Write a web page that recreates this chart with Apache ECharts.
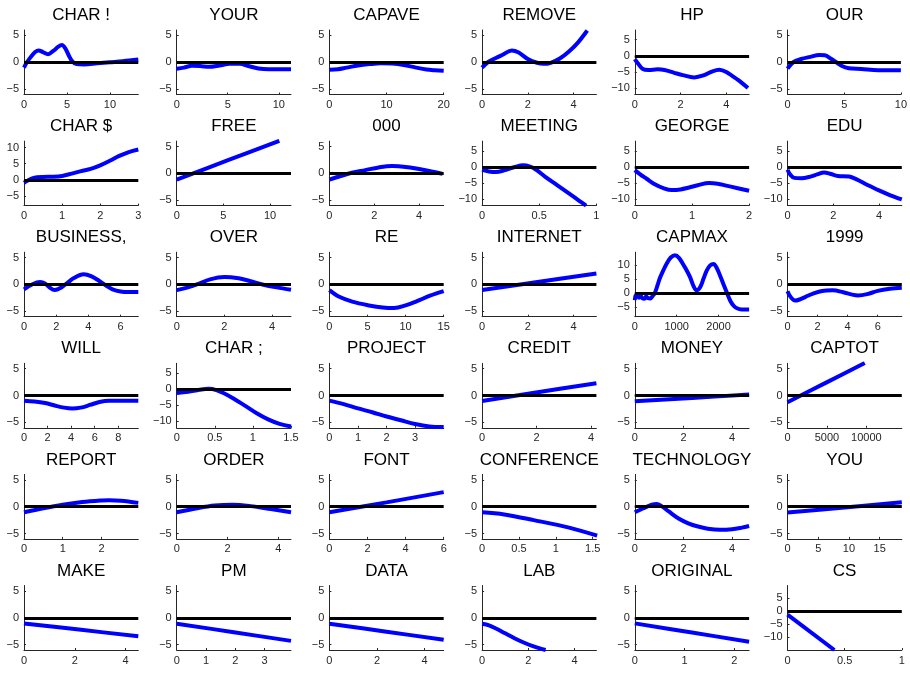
<!DOCTYPE html>
<html><head><meta charset="utf-8">
<script src="https://cdn.jsdelivr.net/npm/echarts@6/dist/echarts.min.js"></script>
<style>html,body{margin:0;padding:0;background:#fff}#c{width:910px;height:673px}</style>
</head><body><div id="c"></div>
<script>
const titles = ['CHAR !','YOUR','CAPAVE','REMOVE','HP','OUR',
  'CHAR $','FREE','000','MEETING','GEORGE','EDU',
  'BUSINESS,','OVER','RE','INTERNET','CAPMAX','1999',
  'WILL','CHAR ;','PROJECT','CREDIT','MONEY','CAPTOT',
  'REPORT','ORDER','FONT','CONFERENCE','TECHNOLOGY','YOU',
  'MAKE','PM','DATA','LAB','ORIGINAL','CS'];
const xMax = [13.3,11.2,20,5,5,10, 3,12.25,5.1,1,2,5, 7.1,4.8,15,5,2730,7.6,
  9.7,1.5,4,4.2,4.7,14500, 2.95,4.5,6,1.55,4.7,18.6, 4.5,3.9,4.8,4.95,2.3,1];
const xTicks = [[0,5,10],[0,5,10],[0,10,20],[0,2,4],[0,2,4],[0,5,10],
  [0,1,2,3],[0,5,10],[0,2,4],[0,0.5,1],[0,1,2],[0,2,4],
  [0,2,4,6],[0,2,4],[0,5,10,15],[0,2,4],[0,1000,2000],[0,2,4,6],
  [0,2,4,6,8],[0,0.5,1,1.5],[0,1,2,3],[0,2,4],[0,2,4],[0,5000,10000],
  [0,1,2],[0,2,4],[0,2,4,6],[0,0.5,1,1.5],[0,2,4],[0,5,10,15],
  [0,2,4],[0,1,2,3],[0,2,4],[0,2,4],[0,1,2],[0,0.5,1]];
const yRange = [[-6,6],[-6,6],[-6,6],[-6,6],[-12,8],[-6,6],
  [-8,12],[-6,6],[-6,6],[-12,8],[-12,8],[-12,8],
  [-6,6],[-6,6],[-6,6],[-6,6],[-8.5,14.5],[-6,6],
  [-6,6],[-12,8],[-6,6],[-6,6],[-6,6],[-6,6],
  [-6,6],[-6,6],[-6,6],[-6,6],[-6,6],[-6,6],
  [-6,6],[-6,6],[-6,6],[-6,6],[-6,6],[-15,10]];
const yTicks = [[-5,0,5],[-5,0,5],[-5,0,5],[-5,0,5],[-10,-5,0,5],[-5,0,5],
  [-5,0,5,10],[-5,0,5],[-5,0,5],[-10,-5,0,5],[-10,-5,0,5],[-10,-5,0,5],
  [-5,0,5],[-5,0,5],[-5,0,5],[-5,0,5],[-5,0,5,10],[-5,0,5],
  [-5,0,5],[-10,-5,0,5],[-5,0,5],[-5,0,5],[-5,0,5],[-5,0,5],
  [-5,0,5],[-5,0,5],[-5,0,5],[-5,0,5],[-5,0,5],[-5,0,5],
  [-5,0,5],[-5,0,5],[-5,0,5],[-5,0,5],[-5,0,5],[-10,-5,0,5]];

const CHAR_EXCL = [[0,-1],[0.3,-0.1],[0.8,1.0],[1.3,1.9],[1.7,2.2],[2.2,1.9],[2.8,1.5],[3.4,2.1],[4.0,2.9],[4.4,3.2],[4.8,2.6],[5.2,1.3],[5.6,0.2],[6.1,-0.35],[7,-0.4],[8.5,-0.2],[10,0],[11.5,0.2],[13.3,0.5]];
const YOUR = [[0,-1.2],[0.7,-1.0],[1.5,-0.65],[2.3,-0.7],[3.2,-0.85],[4.2,-0.6],[5.2,-0.3],[6.2,-0.3],[7,-0.7],[8,-1.15],[9,-1.3],[10,-1.3],[11.2,-1.3]];
const CAPAVE = [[0,-1.4],[1.5,-1.3],[3,-1],[5,-0.6],[7,-0.35],[9,-0.2],[11,-0.25],[13,-0.5],[15,-0.95],[17,-1.35],[18.5,-1.5],[20,-1.6]];
const REMOVE = [[0,-1],[0.25,0],[0.6,0.8],[0.9,1.4],[1.3,2.2],[1.6,1.8],[2.0,0.6],[2.4,-0.1],[2.7,-0.3],[3.0,-0.1],[3.4,0.7],[3.8,2.0],[4.2,3.7],[4.6,5.9]];
const HP = [[0,-1],[0.15,-2.5],[0.35,-4.1],[0.6,-4.4],[1,-4.2],[1.3,-4.4],[1.7,-5.2],[2.1,-6],[2.6,-6.7],[3.0,-6.1],[3.4,-4.8],[3.7,-4.3],[4.0,-5.0],[4.5,-7.4],[4.95,-10]];
const OUR = [[0,-1.2],[0.5,0],[1.2,0.6],[2,1.0],[2.8,1.35],[3.3,1.3],[3.8,0.7],[4.3,0],[4.8,-0.7],[5.4,-1.1],[6.5,-1.25],[8,-1.5],[10,-1.5]];
const CHAR_DOLLAR = [[0,-0.9],[0.1,-0.2],[0.25,0.6],[0.5,0.9],[0.75,0.95],[1.0,1.2],[1.25,1.9],[1.5,2.7],[1.75,3.4],[2.0,4.5],[2.25,5.9],[2.5,7.4],[2.75,8.6],[3.0,9.4]];
const FREE = [[0,-1.15],[5.5,2.45],[11,6.05]];
const ZEROS = [[0,-1.15],[0.5,-0.5],[1,0.1],[1.6,0.6],[2.2,1.1],[2.8,1.35],[3.4,1.2],[4,0.8],[4.5,0.4],[5.05,-0.1]];
const MEETING = [[0,-0.9],[0.06,-1.4],[0.12,-1.6],[0.2,-1.0],[0.28,-0.1],[0.36,0.5],[0.42,0.1],[0.47,-0.8],[0.55,-3],[0.65,-5.5],[0.75,-8],[0.85,-10.5],[0.91,-12]];
const GEORGE = [[0,-1],[0.1,-2.4],[0.2,-3.6],[0.35,-5.4],[0.5,-6.6],[0.65,-7.2],[0.8,-7.0],[0.95,-6.4],[1.1,-5.7],[1.3,-5.0],[1.45,-5.2],[1.6,-5.8],[1.8,-6.6],[2.0,-7.4]];
const EDU = [[0,-0.9],[0.12,-2.4],[0.3,-3.4],[0.6,-3.5],[1.0,-3.0],[1.3,-2.3],[1.6,-1.7],[1.9,-2.2],[2.2,-2.8],[2.7,-3.0],[3.0,-3.8],[3.5,-5.6],[4.0,-7.3],[4.5,-8.8],[5.0,-10.1]];
const BUSINESS = [[0,-0.9],[0.5,0],[1.0,0.45],[1.3,0.2],[1.6,-0.6],[1.9,-1.05],[2.3,-0.6],[2.7,0.3],[3.1,1.2],[3.7,1.9],[4.2,1.5],[4.7,0.6],[5.1,-0.2],[5.5,-0.9],[6.0,-1.3],[6.5,-1.4],[7.1,-1.4]];
const OVER = [[0,-1.05],[0.4,-0.65],[0.85,0],[1.4,0.95],[2,1.4],[2.6,1.15],[3.1,0.6],[3.6,0],[4.2,-0.55],[4.8,-1.0]];
const RE = [[0,-1.05],[1.3,-2.3],[3,-3.2],[5.2,-3.9],[7,-4.3],[8.5,-4.4],[10,-3.9],[11.5,-3.1],[13.2,-2.1],[15,-1.25]];
const INTERNET = [[0,-1.05],[2.5,0.5],[5,2.05]];
const CAPMAX = [[0,-2.6],[20,-1.0],[60,-0.9],[100,-1.7],[140,-1.0],[180,-1.9],[230,-2.1],[270,-1.3],[320,-1.9],[370,-2.0],[420,-1.2],[480,0],[540,2.6],[600,5.3],[680,8.0],[760,10.4],[860,12.6],[960,13.4],[1060,12.4],[1160,10.0],[1240,8.0],[1320,5.6],[1400,2.5],[1480,0.9],[1560,2.0],[1640,5.0],[1720,8.0],[1800,9.8],[1880,10.3],[1960,8.8],[2040,6.0],[2120,3.0],[2200,0],[2280,-2.8],[2360,-4.6],[2440,-5.5],[2550,-5.9],[2730,-5.9]];
const Y1999 = [[0,-1.25],[0.2,-2.3],[0.5,-3.0],[0.8,-2.8],[1.2,-2.3],[1.7,-1.7],[2.3,-1.2],[3.0,-1.1],[3.7,-1.45],[4.3,-1.9],[4.7,-2.05],[5.3,-1.8],[6.0,-1.2],[6.8,-0.8],[7.6,-0.6]];
const WILL = [[0,-0.95],[0.9,-1.1],[1.8,-1.4],[2.6,-1.85],[3.4,-2.25],[4.1,-2.4],[4.8,-2.25],[5.6,-1.75],[6.4,-1.2],[7.2,-0.95],[8,-0.95],[9.7,-0.95]];
const CHAR_SEMI = [[0,-1.2],[0.15,-0.8],[0.3,-0.2],[0.42,0.1],[0.52,-0.3],[0.62,-1.3],[0.75,-3.0],[0.9,-5.2],[1.05,-7.5],[1.2,-9.4],[1.35,-10.8],[1.5,-11.6]];
const PROJECT = [[0,-0.95],[0.5,-1.6],[1,-2.4],[1.5,-3.1],[2,-3.9],[2.5,-4.6],[3,-5.3],[3.5,-5.75],[4,-5.85]];
const CREDIT = [[0,-1],[2.1,0.65],[4.2,2.3]];
const MONEY = [[0,-1.05],[2.35,-0.45],[4.7,0.2]];
const CAPTOT = [[0,-1.25],[4900,2.4],[9800,6.05]];
const REPORT = [[0,-1.05],[0.5,-0.3],[1,0.35],[1.5,0.85],[2,1.15],[2.2,1.2],[2.5,1.1],[2.95,0.7]];
const ORDER = [[0,-1.05],[0.8,-0.3],[1.5,0.2],[2.2,0.35],[2.9,0.1],[3.7,-0.45],[4.5,-1.05]];
const FONT = [[0,-1.05],[3,0.8],[6,2.7]];
const CONFERENCE = [[0,-1.05],[0.3,-1.45],[0.7,-2.5],[1.18,-3.9],[1.56,-5.4]];
const TECHNOLOGY = [[0,-1.05],[0.35,-0.3],[0.7,0.35],[0.9,0.5],[1.1,0.1],[1.4,-0.9],[1.8,-2.2],[2.2,-3.1],[2.6,-3.7],[3.0,-4.1],[3.5,-4.3],[4.0,-4.2],[4.4,-3.9],[4.7,-3.6]];
const YOU = [[0,-1.1],[9.3,-0.15],[18.6,0.8]];
const MAKE = [[0,-1.05],[2.25,-2.25],[4.5,-3.45]];
const PM = [[0,-1.1],[1.95,-2.7],[3.9,-4.3]];
const DATA = [[0,-1.1],[2.4,-2.6],[4.8,-4.1]];
const LAB = [[0,-1.1],[0.3,-1.4],[0.6,-2.0],[1.0,-2.9],[1.4,-3.8],[1.8,-4.6],[2.2,-5.3],[2.5,-5.7],[2.75,-6.0]];
const ORIGINAL = [[0,-1.05],[1.15,-2.75],[2.3,-4.45]];
const CS = [[0,-1.3],[0.41,-15]];

const curves = [CHAR_EXCL,YOUR,CAPAVE,REMOVE,HP,OUR,
  CHAR_DOLLAR,FREE,ZEROS,MEETING,GEORGE,EDU,
  BUSINESS,OVER,RE,INTERNET,CAPMAX,Y1999,
  WILL,CHAR_SEMI,PROJECT,CREDIT,MONEY,CAPTOT,
  REPORT,ORDER,FONT,CONFERENCE,TECHNOLOGY,YOU,
  MAKE,PM,DATA,LAB,ORIGINAL,CS];

const colLeft = 24, colPitch = 152.7, plotW = 114.3;
const rowTop = 30, rowPitch = 111.1, plotH = 64.5;
const fontFam = 'Liberation Sans, Arial, Helvetica, sans-serif';
const fmt = v => String(v).replace('-', '\u2212');

const grid = [], xAxis = [], yAxis = [], series = [], title = [];
titles.forEach((t, i) => {
  const r = Math.floor(i / 6), c = i % 6;
  const left = colLeft + c * colPitch, top = rowTop + r * rowPitch;
  grid.push({left, top, width: plotW, height: plotH});
  title.push({text: t, left: left + plotW / 2, top: top - 23, textAlign: 'center', padding: 0,
    textStyle: {fontSize: 17, fontWeight: 'normal', color: '#000', fontFamily: fontFam}});
  const axisCommon = {
    axisLine: {show: true, onZero: false, lineStyle: {color: '#262626', width: 1}},
    splitLine: {show: false}
  };
  xAxis.push(Object.assign({gridIndex: i, type: 'value', min: 0, max: xMax[i],
    axisTick: {show: true, inside: true, length: 2, customValues: xTicks[i], lineStyle: {color: '#262626'}},
    axisLabel: {customValues: xTicks[i], fontSize: 11, color: '#262626', margin: 5, fontFamily: fontFam, formatter: fmt}
  }, axisCommon));
  yAxis.push(Object.assign({gridIndex: i, type: 'value', min: yRange[i][0], max: yRange[i][1],
    axisTick: {show: true, inside: true, length: 2, customValues: yTicks[i], lineStyle: {color: '#262626'}},
    axisLabel: {customValues: yTicks[i], fontSize: 11, color: '#262626', margin: 5, fontFamily: fontFam, formatter: fmt}
  }, axisCommon));
  series.push({type: 'line', xAxisIndex: i, yAxisIndex: i, data: curves[i], smooth: 0.35,
    showSymbol: false, clip: true, lineStyle: {color: '#0000ff', width: 4}, z: 2,
    markLine: {silent: true, symbol: 'none', label: {show: false}, animation: false,
      lineStyle: {color: '#000', width: 3, type: 'solid'}, data: [{yAxis: 0}]}});
});

const chart = echarts.init(document.getElementById('c'), null, {renderer: 'canvas'});
chart.setOption({animation: false, backgroundColor: '#fff', title, grid, xAxis, yAxis, series});
</script></body></html>
